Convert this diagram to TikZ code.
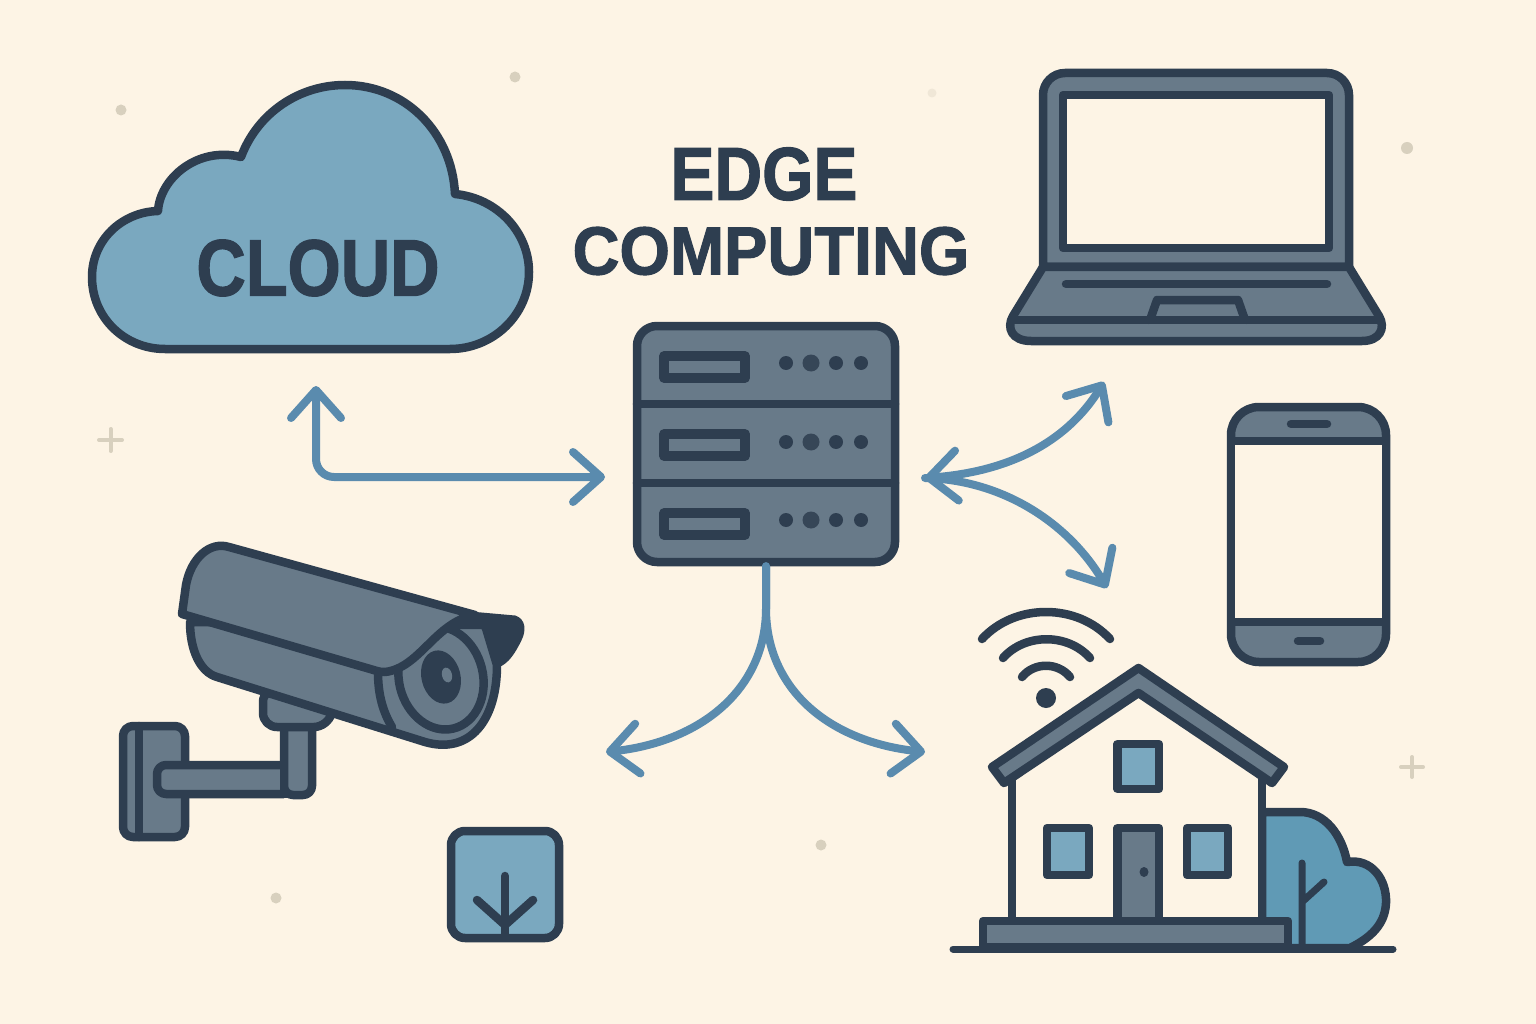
\documentclass[tikz,border=0pt]{standalone}
\usepackage{fontspec}
\setmainfont{Liberation Sans}
\newfontfamily\heavyfont[BoldFeatures={FakeBold=1.6}]{Liberation Sans}
\usetikzlibrary{arrows.meta,positioning,shapes.geometric}
\definecolor{paper}{HTML}{FDF4E5}
\definecolor{ink}{HTML}{2E3E50}
\definecolor{slate}{HTML}{687A89}
\definecolor{sky}{HTML}{7AA8BF}
\definecolor{leaf}{HTML}{609AB5}
\definecolor{wire}{HTML}{5A8BAE}
\definecolor{speck}{HTML}{D8D0BE}
\begin{document}
\begin{tikzpicture}[
x=1pt, y=-1pt,
every node/.style={
        font=\heavyfont\bfseries, text=ink, inner sep=0pt
    },
Body/.style = {draw=ink, line width=8.5pt, line join=round, fill=#1},
Body/.default = slate,
Stroke/.style = {draw=ink, line width=8.5pt, line cap=round, line join=round},
Link/.style = {draw=wire, line width=8pt, line cap=round,
               {Straight Barb[length=28pt,width=50pt,round]}-{Straight Barb[length=28pt,width=50pt,round]}},
Half/.style = {draw=wire, line width=8pt, line cap=round,
               -{Straight Barb[length=28pt,width=50pt,round]}},
Led/.style = {fill=ink, circle, minimum size=#1},
Led/.default = 14pt,
Speck/.style = {fill=speck, circle, minimum size=#1},
Server/.style = {draw=ink, line width=8.5pt, fill=slate, rounded corners=20pt,
                 minimum width=258pt, minimum height=236pt}
    ]
\path[use as bounding box, fill=paper] (0,0) rectangle (1536,1024);

% specks
\node (Speck1) [Speck=11pt] at (121,110) {};
\node (Speck2) [Speck=11pt] at (515,77) {};
\node (Speck3) [Speck=12pt] at (1407,148) {};
\node (Speck4) [Speck=11pt] at (821,845) {};
\node (Speck5) [Speck=11pt] at (276,898) {};
\node (Speck6) [Speck=9pt, opacity=.35] at (932,93) {};
\draw[speck, line width=4pt, line cap=round] (99,440) -- (122,440) (110.5,429) -- (110.5,451);
\draw[speck, line width=4pt, line cap=round] (1401,767) -- (1423,767) (1412,757) -- (1412,777);

% cloud
\draw[Body=sky] (165,349) .. controls (125,349) and (92,318) .. (92,277)
    .. controls (92,240) and (122,212) .. (158,211)
    .. controls (160,178) and (198,146) .. (241,157)
    .. controls (258,112) and (300,85) .. (345,85)
    .. controls (405,85) and (452,132) .. (455,194)
    .. controls (497,198) and (529,232) .. (529,272)
    .. controls (529,315) and (493,349) .. (450,349) -- cycle;
\node (Cloudlabel) [font=\heavyfont\bfseries\fontsize{80}{80}\selectfont] at (318,268) {\scalebox{.855}[1]{CLOUD}};

% title
\node (Edgelabel) [font=\heavyfont\bfseries\fontsize{75}{75}\selectfont] at (764,174) {\scalebox{.88}[1]{EDGE}};
\node (Computinglabel) [font=\heavyfont\bfseries\fontsize{68}{68}\selectfont] at (771,251) {\scalebox{.955}[1]{COMPUTING}};

% server
\node (Server) [Server] at (766,444) {};
\draw[Stroke] (637,404) -- (895,404) (637,483) -- (895,483);
\foreach \y in {367,445,524} {
    \draw[Body, line width=9.5pt] (664,\y-11) rectangle (745,\y+11);
}
\foreach \y/\n in {363/a,442/b,520/c} {
    \node (Led\n1) [Led] at (786,\y) {};
    \node (Led\n2) [Led=17pt, fill=ink!96!white] at (811,\y) {};
    \node (Led\n3) [Led] at (836,\y) {};
    \node (Led\n4) [Led] at (861,\y) {};
}

% laptop
\draw[Body] (1043,267) -- (1043,95) arc (180:270:22) -- (1327,73) arc (270:360:22) -- (1349,267) -- cycle;
\draw[Body=paper] (1063,95) rectangle (1329,248);
\draw[Body] (1043,267) -- (1349,267) -- (1379,316) .. controls (1386,328) and (1380,341) .. (1362,341)
    -- (1031,341) .. controls (1012,341) and (1006,328) .. (1013,316) -- cycle;
\draw[Stroke] (1013,320) -- (1380,320) (1066,284) -- (1327,284);
\draw[Stroke] (1150,320) -- (1157,300) -- (1238,300) -- (1245,320);

% phone
\draw[Body] (1231,435) arc (180:270:28) -- (1358,407) arc (270:360:28) -- (1386,634) arc (0:90:28) -- (1259,662) arc (90:180:28) -- cycle;
\draw[Body=paper] (1231,441) rectangle (1386,622);
\draw[Stroke] (1291,424) -- (1327,424) (1298,641) -- (1320,641);

% camera
\draw[Body, rounded corners=10pt] (123,726) rectangle (185,837);
\draw[Stroke] (139,726) -- (139,837);
\draw[Body, rounded corners=9pt] (284,715) rectangle (312,795);
\draw[Body, rounded corners=9pt] (284,765) -- (157,765) -- (157,794) -- (284,794);
\draw[Stroke, line cap=butt] (284,761) -- (284,798);
\draw[Body, rounded corners=14pt] (263,688) -- (263,727) -- (328,727) -- (335,700) -- cycle;
\draw[Body] (190,622) .. controls (190,650) and (200,672) .. (217,677) -- (425,742)
    .. controls (470,755) and (497,720) .. (497,665) -- (485,625) -- cycle;
\draw[Stroke] (378,672) .. controls (378,695) and (383,712) .. (392,727);
\draw[Stroke, fill=slate, rotate around={14:(441,678)}] (441,678) ellipse (42 and 52);
\node (Lens) [fill=ink, ellipse, minimum width=39pt, minimum height=54pt, rotate=14] at (441,677) {};
\node (Glint) [fill=slate, ellipse, minimum width=10pt, minimum height=15pt, rotate=14] at (447,675) {};
\path[fill=ink, draw=ink, line width=3pt, line join=round] (470,613) -- (515,617) .. controls (524,620) and (525,630) .. (520,640)
    .. controls (514,652) and (508,662) .. (498,666) .. controls (496,645) and (488,625) .. (470,622) -- cycle;
\draw[Body] (182,614) -- (186,585) .. controls (191,558) and (210,541) .. (229,547) -- (475,615)
    .. controls (435,622) and (420,668) .. (385,672) .. controls (382,672) and (380,672) .. (377,671) -- cycle;

% chip
\draw[Body=sky, rounded corners=14pt] (451,831) rectangle (559,938);
\draw[Stroke, line cap=round] (505,876) -- (505,936);
\draw[Stroke] (477,900) -- (505,925) -- (533,900);

% tree
\draw[Body=leaf] (1262,812) -- (1300,812) .. controls (1325,812) and (1342,835) .. (1347,862)
    .. controls (1372,858) and (1387,880) .. (1386,903)
    .. controls (1385,925) and (1370,938) .. (1350,948) -- (1262,948) -- cycle;
\draw[Stroke, line width=7pt] (1302,863) -- (1302,948) (1302,902) -- (1324,882);

% house
\path[fill=paper] (1012,775) -- (1138,690) -- (1262,775) -- (1262,921) -- (1012,921) -- cycle;
\draw[Stroke] (1012,775) -- (1012,921) (1262,775) -- (1262,921);
\draw[Body] (1138.5,668) -- (992,767) -- (1004,783) -- (1138.5,693) -- (1272,783) -- (1284,767) -- cycle;
\foreach \xa/\ya/\xb/\yb in {1117.5/744/1159/789,1047/828/1089/875,1187/828/1228/875} {
    \draw[Body=sky] (\xa,\ya) rectangle (\xb,\yb);
}
\draw[Body] (1117.5,828) rectangle (1159,921);
\node (Knob) [fill=ink, ellipse, minimum width=9pt, minimum height=10pt] at (1144,872) {};
\draw[Body] (983,921) rectangle (1288,947);
\draw[Stroke, line width=7pt] (953,949) -- (1393,949);

% wifi
\node (Wifidot) [fill=ink, circle, minimum size=20pt] at (1046,698) {};
\draw[Stroke] (1022,677) .. controls (1034,662) and (1058,662) .. (1070,677);
\draw[Stroke] (1003,658) .. controls (1025,633) and (1068,633) .. (1090,658);
\draw[Stroke] (982,639) .. controls (1015,603) and (1077,603) .. (1110,639);

% links
\coordinate (Cloudend) at (316,386);
\coordinate (Serverend) at (605,477);
\coordinate (Righthub) at (925,478);
\coordinate (Laptopend) at (1104,382);
\coordinate (Homeend) at (1107,588);
\coordinate (Cameraend) at (606,752);
\coordinate (Houseend) at (925,752);
\path[Link, rounded corners=18pt] (Cloudend) |- (Serverend);
\path[Link] (Righthub) .. controls (1005,472) and (1065,445) .. (Laptopend);
\path[Half] (Righthub) .. controls (1005,480) and (1070,525) .. (Homeend);
\path[Half] (Server.south) -- ++(0,42) .. controls (766,690) and (700,742) .. (Cameraend);
\path[Half] (Server.south) -- ++(0,42) .. controls (766,690) and (830,742) .. (Houseend);
\end{tikzpicture}
\end{document}
